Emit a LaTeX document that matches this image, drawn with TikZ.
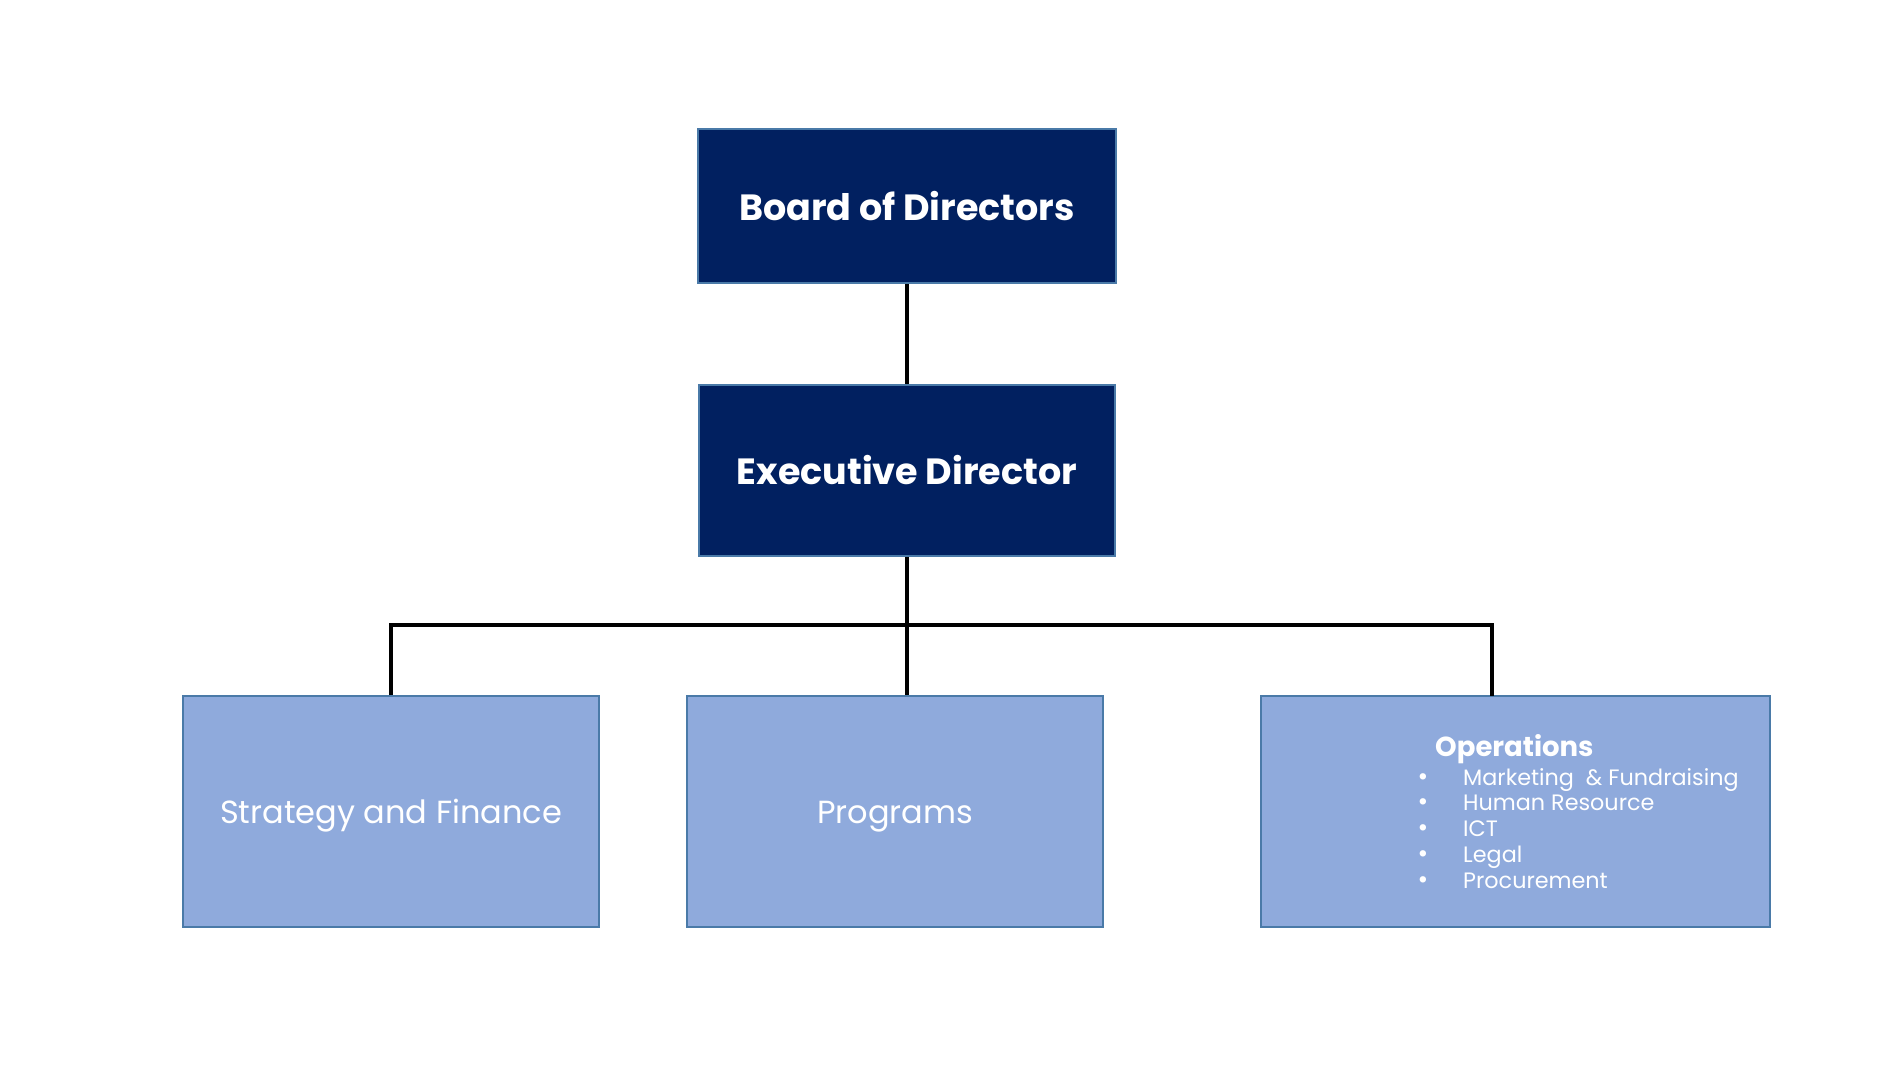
\documentclass[tikz,border=0pt]{standalone}
\usepackage{fontspec}
\setmainfont{Poppins}
\definecolor{navy}{RGB}{1,32,96}
\definecolor{lightbox}{RGB}{143,170,220}
\definecolor{edgeblue}{RGB}{74,122,168}
\tikzset{
  topbox/.style={draw=edgeblue, line width=1.5pt, fill=navy, text=white, inner sep=0pt, font=\fontsize{36.5}{40}\selectfont\bfseries},
  lowbox/.style={draw=edgeblue, line width=1.5pt, fill=lightbox, text=white, inner sep=0pt, text height=31pt, text depth=8pt, font=\fontsize{32}{36}\selectfont},
  link/.style={line width=4pt, black},
  item/.style={anchor=base west, text=white, inner sep=0pt, font=\fontsize{22.3}{26}\selectfont},
  bul/.style={anchor=base, text=white, inner sep=0pt, font=\fontsize{26}{26}\selectfont}
}
\begin{document}
\begin{tikzpicture}[x=1pt,y=-1pt]
\useasboundingbox (0,0) rectangle (1900,1069);
\node[topbox, minimum width=418pt, minimum height=154pt] (board) at (907,206) {Board of Directors};
\node[topbox, minimum width=416pt, minimum height=171pt] (exec) at (907,470.5) {Executive Director};
\node[lowbox, minimum width=416pt, minimum height=231pt] (strat) at (391,811.5) {Strategy and Finance};
\node[lowbox, minimum width=416pt, minimum height=231pt] (prog) at (895,811.5) {Programs};
\node[lowbox, minimum width=509pt, minimum height=231pt] (ops) at (1515.5,811.5) {};
\coordinate (bus) at (907,625);
\coordinate (opsin) at (1492,696);
\draw[link] (board.south) -- (exec.north);
\draw[link] (exec.south) -- (prog.north -| exec.south);
\draw[link] (strat.north) |- (bus) -| (opsin);
\node[anchor=base west, text=white, inner sep=0pt, font=\fontsize{27.5}{30}\selectfont\bfseries] (opstitle) at (1435,756) {Operations};
\node[item] (i1) at (1463,785) {Marketing\ \ \& Fundraising};
\node[item] (i2) at (1463,810.8) {Human Resource};
\node[item] (i3) at (1463,836.6) {ICT};
\node[item] (i4) at (1463,862.4) {Legal};
\node[item] (i5) at (1463,888.2) {Procurement};
\node[bul] (b1) at (1423,785) {•};
\node[bul] (b2) at (1423,810.8) {•};
\node[bul] (b3) at (1423,836.6) {•};
\node[bul] (b4) at (1423,862.4) {•};
\node[bul] (b5) at (1423,888.2) {•};
\end{tikzpicture}
\end{document}
